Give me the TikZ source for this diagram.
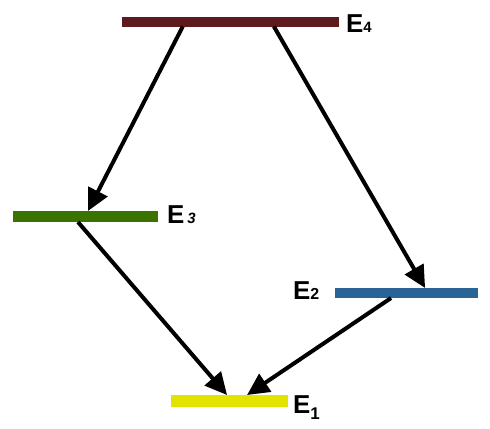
\documentclass[tikz,border=0pt]{standalone}
\usepackage{fontspec}
\setmainfont{Liberation Sans}
\usetikzlibrary{arrows.meta,calc}
\definecolor{cfour}{HTML}{5E1A1D}
\definecolor{cthree}{HTML}{3A7300}
\definecolor{ctwo}{HTML}{2A6496}
\definecolor{cone}{HTML}{E3E300}
\begin{document}
\begin{tikzpicture}[x=1bp,y=-1bp,
  bar/.style={rectangle,draw=none,inner sep=0pt,outer sep=0pt},
  arr/.style={line width=4bp,draw=black,-{Triangle[length=22bp,width=21bp]}},
  lab/.style={anchor=base west,inner sep=0pt,outer sep=0pt,font=\bfseries\fontsize{26}{30}\selectfont}]
\useasboundingbox (0,0) rectangle (490,428);
\node[bar,fill=cfour,minimum width=217bp,minimum height=10bp] (e4) at (230.5,21.5) {};
\node[bar,fill=cthree,minimum width=145bp,minimum height=11bp] (e3) at (85.5,216.5) {};
\node[bar,fill=ctwo,minimum width=143bp,minimum height=10bp] (e2) at (406.5,293) {};
\node[bar,fill=cone,minimum width=117bp,minimum height=12bp] (e1) at (229.5,401) {};
\node[lab] (l4) at (346,32) {E{\fontsize{15}{15}\selectfont 4}};
\node[lab] (l3) at (167,223) {E\hspace{3bp}{\fontsize{15}{15}\selectfont\itshape 3}};
\node[lab] (l2) at (293,299) {E{\fontsize{16}{16}\selectfont 2}};
\node[lab] (l1) at (293,413) {E\raisebox{-6bp}{\fontsize{17}{17}\selectfont 1}};
\draw[arr] ($(e4.south west)!0.28!(e4.south east)$) -- ($(e3.north west)!0.517!(e3.north east)$);
\draw[arr] ($(e4.south west)!0.70!(e4.south east)$) -- ($(e2.north west)!0.63!(e2.north east)$);
\draw[arr] ($(e3.south west)!0.448!(e3.south east)$) -- ($(e1.north west)!0.479!(e1.north east)$);
\draw[arr] ($(e2.south west)!0.392!(e2.south east)$) -- ($(e1.north west)!0.65!(e1.north east)$);
\end{tikzpicture}
\end{document}
